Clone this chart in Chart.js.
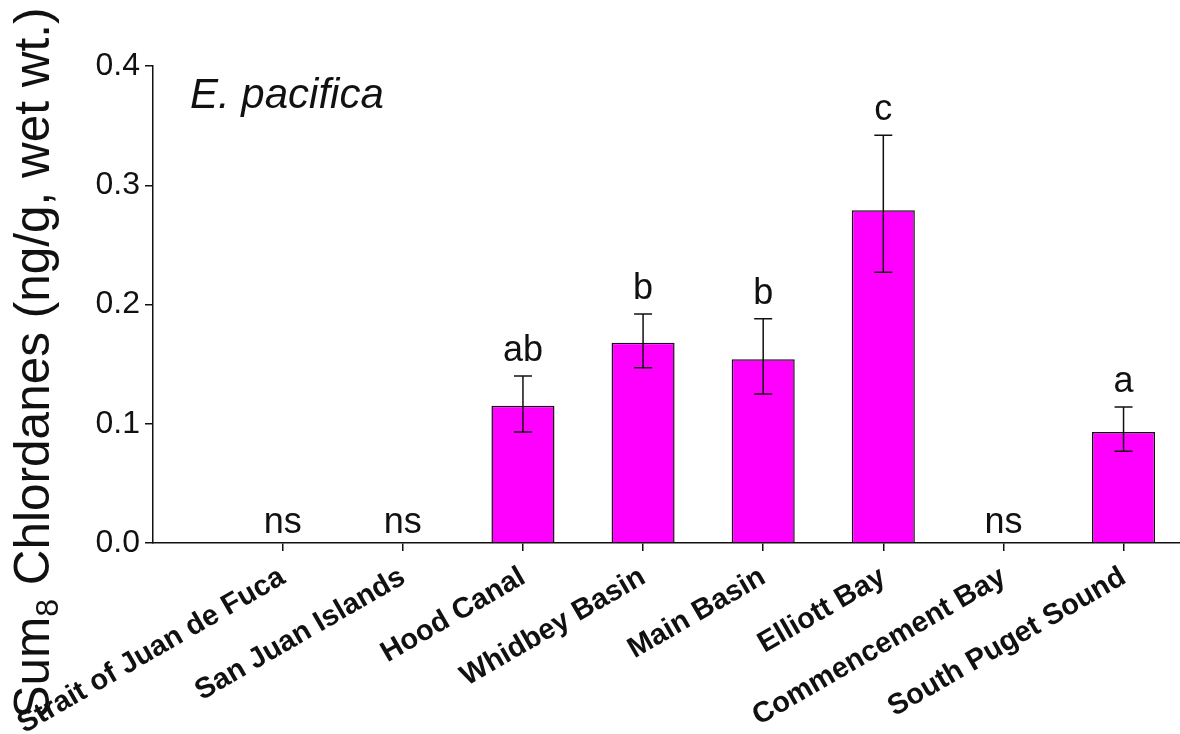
<!DOCTYPE html>
<html>
<head>
<meta charset="utf-8">
<script src="https://cdn.jsdelivr.net/npm/chart.js@4.4.1/dist/chart.umd.min.js"></script>
<style>
  html, body { margin: 0; padding: 0; background: #ffffff; }
  #wrap { width: 1180px; height: 734px; position: relative; }
</style>
</head>
<body>
<div id="wrap"><canvas id="chart" width="1180" height="734"></canvas></div>
<script>
// Sampling regions along Puget Sound
const categories = [
  'Strait of Juan de Fuca', 'San Juan Islands', 'Hood Canal', 'Whidbey Basin',
  'Main Basin', 'Elliott Bay', 'Commencement Bay', 'South Puget Sound'
];
// Mean sum of 8 chlordanes (ng/g wet wt.); null where not tested
const meanValues  = [null, null, 0.115, 0.168, 0.154, 0.279, null, 0.093];
// Upper and lower ends of the error bars
const upperValues = [null, null, 0.140, 0.192, 0.188, 0.342, null, 0.114];
const lowerValues = [null, null, 0.093, 0.147, 0.125, 0.227, null, 0.077];
// Significance groupings printed above each region
const groupLetters = ['ns', 'ns', 'ab', 'b', 'b', 'c', 'ns', 'a'];
// Y axis tick values
const yTickValues = [0.0, 0.1, 0.2, 0.3, 0.4];

const FONT = "'Liberation Sans', Arial, Helvetica, sans-serif";
const INK = '#111111';

const barPoints = categories.map((c, i) => ({ x: i, y: meanValues[i] }));

const annotations = {
  id: 'annotations',
  afterDatasetsDraw(chart) {
    const ctx = chart.ctx;
    const xs = chart.scales.x;
    const ys = chart.scales.y;
    ctx.save();

    // error bars
    ctx.strokeStyle = INK;
    ctx.lineWidth = 1.5;
    const cap = 9;
    categories.forEach((c, i) => {
      if (upperValues[i] == null || lowerValues[i] == null) return;
      const x = xs.getPixelForValue(i);
      const yt = ys.getPixelForValue(upperValues[i]);
      const yb = ys.getPixelForValue(lowerValues[i]);
      ctx.beginPath();
      ctx.moveTo(x, yt); ctx.lineTo(x, yb);
      ctx.moveTo(x - cap, yt); ctx.lineTo(x + cap, yt);
      ctx.moveTo(x - cap, yb); ctx.lineTo(x + cap, yb);
      ctx.stroke();
    });

    // group letters
    ctx.fillStyle = INK;
    ctx.font = '36px ' + FONT;
    ctx.textAlign = 'center';
    ctx.textBaseline = 'alphabetic';
    categories.forEach((c, i) => {
      const x = xs.getPixelForValue(i);
      const y = upperValues[i] != null
        ? ys.getPixelForValue(upperValues[i]) - 15
        : ys.getPixelForValue(0) - 10;
      ctx.fillText(groupLetters[i], x, y);
    });

    // species name inside the plot
    ctx.font = 'italic 42px ' + FONT;
    ctx.textAlign = 'left';
    ctx.fillText('E. pacifica', chart.chartArea.left + 37, chart.chartArea.top + 42);

    // y axis title with subscript
    const big = '49.5px ' + FONT;
    const small = '32px ' + FONT;
    const p1 = 'Sum', p2 = '8', p3 = ' Chlordanes (ng/g, wet wt.)';
    ctx.font = big;
    const w1 = ctx.measureText(p1).width;
    const w3 = ctx.measureText(p3).width;
    ctx.font = small;
    const w2 = ctx.measureText(p2).width;
    const total = w1 + w2 + w3;
    ctx.translate(49, 363);
    ctx.rotate(-Math.PI / 2);
    let tx = -total / 2;
    ctx.textAlign = 'left';
    ctx.font = big;
    ctx.fillText(p1, tx, 0); tx += w1;
    ctx.font = small;
    ctx.fillText(p2, tx, 9); tx += w2;
    ctx.font = big;
    ctx.fillText(p3, tx, 0);

    ctx.restore();
  }
};

new Chart(document.getElementById('chart'), {
  type: 'bar',
  data: {
    datasets: [{
      data: barPoints,
      backgroundColor: '#ff00ff',
      borderColor: INK,
      borderWidth: 1.5,
      barPercentage: 0.525,
      categoryPercentage: 1.0
    }]
  },
  options: {
    responsive: false,
    animation: false,
    devicePixelRatio: 1,
    layout: { padding: { top: 66, left: 0, right: 0, bottom: 0 } },
    plugins: { legend: { display: false }, tooltip: { enabled: false }, title: { display: false } },
    scales: {
      x: {
        type: 'linear',
        offset: false,
        min: -1.08,
        max: 7.47,
        afterBuildTicks(scale) { scale.ticks = categories.map((c, i) => ({ value: i })); },
        afterFit(scale) {
          scale.height = 191;
          // long rotated labels may run into the left margin; keep the plot area fixed
          scale.paddingLeft = 0;
          scale.paddingRight = 0;
        },
        grid: { display: true, drawOnChartArea: false, drawTicks: true, tickLength: 8, color: INK, lineWidth: 1.5, offset: false },
        border: { display: true, color: INK, width: 1.5 },
        ticks: {
          autoSkip: false,
          minRotation: 30,
          maxRotation: 30,
          padding: 9,
          color: INK,
          font: { family: FONT, size: 29, weight: 'bold' },
          callback: (v) => categories[v]
        }
      },
      y: {
        min: 0,
        max: 0.4,
        afterBuildTicks(scale) { scale.ticks = yTickValues.map(v => ({ value: v })); },
        afterFit(scale) { scale.width = 153; },
        grid: { display: true, drawOnChartArea: false, drawTicks: true, tickLength: 8, color: INK, lineWidth: 1.5 },
        border: { display: true, color: INK, width: 1.5 },
        ticks: {
          padding: 5,
          color: INK,
          font: { family: FONT, size: 32 },
          callback: (v) => Number(v).toFixed(1)
        }
      }
    }
  },
  plugins: [annotations]
});
</script>
</body>
</html>
